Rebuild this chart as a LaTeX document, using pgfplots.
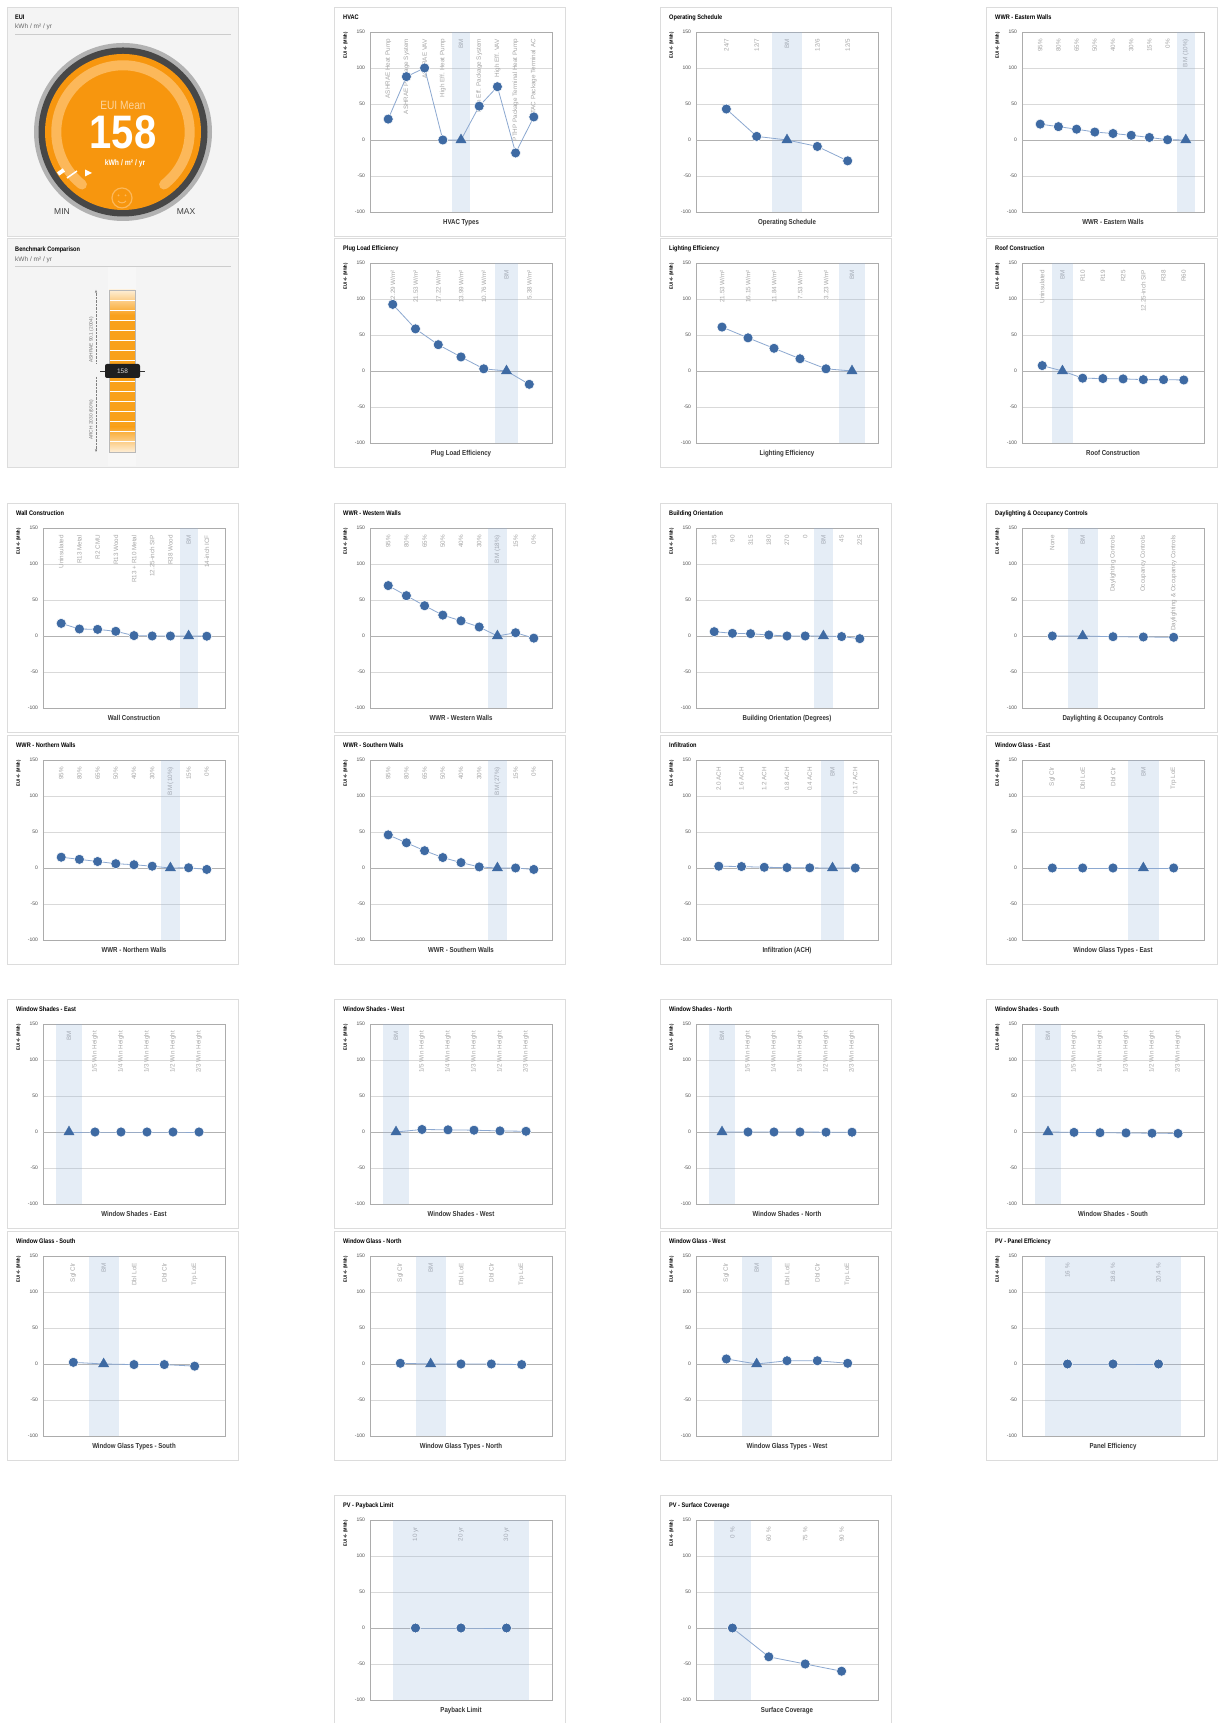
\documentclass[border=0pt]{standalone}
\usepackage{pgfplots}
\pgfplotsset{compat=1.18}
\usepackage{fontspec}
\setmainfont{Liberation Sans}
\newfontfamily\cond[FakeStretch=0.85]{Liberation Sans}
\usetikzlibrary{arrows.meta}

\definecolor{dotblue}{RGB}{62,106,163}
\definecolor{lineblue}{RGB}{140,168,208}
\definecolor{bandblue}{RGB}{150,180,220}
\definecolor{panelgray}{RGB}{220,220,220}
\definecolor{panelfill}{RGB}{244,244,244}
\definecolor{gaugeorange}{RGB}{247,150,14}
\definecolor{lightorange}{RGB}{252,184,90}
\definecolor{barorange}{RGB}{249,161,27}

\newcommand\titlefont{\cond\bfseries\fontsize{6.6}{7}\selectfont}
\newcommand\xlabfont{\cond\bfseries\fontsize{7.2}{8}\selectfont}
\newcommand\catfont{\fontsize{6.3}{7}\selectfont}
\newcommand\tickfont{\fontsize{5}{6}\selectfont}
\newcommand\ylabfont{\cond\bfseries\fontsize{4.8}{5}\selectfont}

\pgfplotsset{
  chart/.style={
    width=182pt, height=180pt, scale only axis, anchor=south west,
    xmin=0, ymin=-100, ymax=150, ytick={-100,-50,0,50,100,150},
    ymajorgrids, grid style={gray!30, line width=0.5pt},
    extra y ticks={0}, extra y tick labels={},
    extra y tick style={grid style={gray!60, line width=0.7pt}},
    major tick length=0pt,
    axis line style={gray!65, line width=0.6pt},
    xticklabel pos=upper,
    xticklabel style={yshift=-7pt, rotate=90, anchor=east, inner sep=0pt, font=\catfont, text=gray!70},
    yticklabel style={font=\tickfont, text=black!70, xshift=-1.5pt},
    /pgf/number format/assume math mode=true,
    ylabel={EUI +/- (MWh)},
    ylabel style={at={(axis description cs:-0.12,1)}, anchor=south east, inner sep=0pt, font=\ylabfont},
    xlabel style={at={(axis description cs:0.5,0)}, anchor=north, yshift=-4pt, font=\xlabfont, text=black!80},
  },
  pts/.style={scatter, scatter src=explicit symbolic, draw=lineblue, line width=0.8pt,
    scatter/classes={
      c={mark=*, mark size=5pt, fill=dotblue, draw=white, line width=0.5pt},
      b={mark=triangle*, mark size=6pt, fill=dotblue, draw=dotblue, line width=0.3pt}}},
}

\newcommand{\panel}[3]{%
  \draw[panelgray, fill=white, line width=0.8pt] (#1,{1723-#2}) rectangle ({#1+231},{1723-#2-229});
  \node[anchor=base west, inner sep=0pt, font=\titlefont] at ({#1+9},{1723-#2-12.5}) {#3};
}

% left, top, title, xlabel, n, labels, band from, band to, data
\newcommand{\chart}[9]{%
  \panel{#1}{#2}{#3}
  \pgfmathtruncatemacro\xmx{#5+1}
  \begin{axis}[chart, at={({(#1+36)*1pt},{(1723-#2-205)*1pt})}, xmax=\xmx, xtick={1,...,#5},
      xticklabels={#6}, xlabel={#4}]
    \addplot[fill=bandblue, fill opacity=0.24, draw=none]
      coordinates {(#7,-100) (#8,-100) (#8,150) (#7,150)};
    \addplot[pts] table[meta=c, row sep=\\] {#9};
  \end{axis}}

\begin{document}
\begin{tikzpicture}[x=1pt,y=1pt]
\fill[white] (0,0) rectangle (1218,1723);

% ---------- EUI gauge panel
\draw[panelgray, fill=panelfill, line width=0.8pt] (7,{1723-7}) rectangle (238,{1723-236});
\node[anchor=base west, inner sep=0pt, font=\titlefont] at (15,{1723-19.5}) {EUI};
\node[anchor=base west, inner sep=0pt, font=\fontsize{6.5}{7}\selectfont, text=black!60] at (15,{1723-29}) {kWh / m² / yr};
\draw[gray!40] (15,{1723-34}) -- (231,{1723-34});
\fill[gray!60] (123,{1723-132}) circle (89pt);
\fill[black!72] (123,{1723-132}) circle (84.5pt);
\fill[gaugeorange] (123,{1723-132}) circle (78pt);
\draw[lightorange, line width=10pt, line cap=round]
  ({123+66.7*cos(232)},{1723-132+66.7*sin(232)}) arc[start angle=232, end angle=-52, radius=66.7pt];
\node[text=lightorange!60!white, font=\cond\fontsize{12}{12}\selectfont] at (123,{1723-105}) {EUI Mean};
\node[text=white, font=\cond\bfseries\fontsize{47}{47}\selectfont, inner sep=0pt] at (123,{1723-132}) {158};
\node[text=white, font=\cond\bfseries\fontsize{8}{8}\selectfont] at (125,{1723-163}) {kWh / m² / yr};
\draw[lightorange, line width=1.2pt] (122,{1723-198}) circle (10pt);
\fill[lightorange] (118.5,{1723-195.5}) circle (1pt) (125.5,{1723-195.5}) circle (1pt);
\draw[lightorange, line width=1pt] (118,{1723-201}) .. controls (120,{1723-203.5}) and (124,{1723-203.5}) .. (126,{1723-201});
\fill[white, rotate around={35:(61,{1723-172})}] (57.5,{1723-174}) rectangle (64.5,{1723-170});
\draw[white, line width=1.5pt] (67,{1723-178}) -- (77,{1723-171});
\fill[white] (85,{1723-169.5}) -- (92,{1723-173}) -- (85,{1723-176.5}) -- cycle;
\node[text=black!75, font=\fontsize{8.5}{9}\selectfont] at (62,{1723-212}) {MIN};
\node[text=black!75, font=\fontsize{8.5}{9}\selectfont] at (186,{1723-212}) {MAX};

% ---------- Benchmark panel
\draw[panelgray, fill=panelfill, line width=0.8pt] (7,{1723-238}) rectangle (238,{1723-467});
\node[anchor=base west, inner sep=0pt, font=\titlefont] at (15,{1723-251.5}) {Benchmark Comparison};
\node[anchor=base west, inner sep=0pt, font=\fontsize{6.5}{7}\selectfont, text=black!60] at (15,{1723-261.5}) {kWh / m² / yr};
\draw[gray!40] (15,{1723-266}) -- (231,{1723-266});
\fill[white!97!black] (108,{1723-267}) rectangle (136,{1723-466});
\shade[top color=barorange!18!white, bottom color=barorange] (109,{1723-290}) rectangle (135,{1723-315});
\fill[barorange] (109,{1723-315}) rectangle (135,{1723-427});
\shade[top color=barorange, bottom color=barorange!18!white] (109,{1723-427}) rectangle (135,{1723-452});
\foreach \k in {1,...,15} \draw[white, line width=0.8pt] (109,{1723-290-\k*10.125}) -- (135,{1723-290-\k*10.125});
\draw[gray!55, line width=0.6pt] (109,{1723-290}) rectangle (135,{1723-452});
\draw[black!80, line width=0.8pt] (100,{1723-371}) -- (145,{1723-371});
\fill[black!88, rounded corners=2pt] (105,{1723-364}) rectangle (140,{1723-378});
\node[text=white!85!black, font=\fontsize{6.5}{7}\selectfont] at (122.5,{1723-371}) {158};
\draw[gray, densely dotted, -{Stealth[length=3pt]}] (96,{1723-363}) -- (96,{1723-290});
\draw[gray, densely dotted, -{Stealth[length=3pt]}] (96,{1723-377}) -- (96,{1723-452});
\node[rotate=90, text=black!55, font=\fontsize{4.8}{5}\selectfont] at (91.5,{1723-340}) {ASHRAE 90.1 (2004)};
\node[rotate=90, text=black!55, font=\fontsize{4.8}{5}\selectfont] at (91.5,{1723-420}) {ARCH 2030 (60\%)};

% ---------- row 1
\chart{334}{7}{HVAC}{HVAC Types}{9}{ASHRAE Heat Pump,ASHRAE Package System,ASHRAE VAV,High Eff. Heat Pump,BM,High Eff. Package System,High Eff. VAV,PTHP Package Terminal Heat Pump,PTAC Package Terminal AC}{4.5}{5.5}
{x y c\\ 1 29 c\\ 2 88 c\\ 3 100 c\\ 4 0 c\\ 5 0 b\\ 6 47 c\\ 7 74 c\\ 8 -18 c\\ 9 32 c\\}
\chart{660}{7}{Operating Schedule}{Operating Schedule}{5}{24/7,12/7,BM,12/6,12/5}{2.5}{3.5}
{x y c\\ 1 43 c\\ 2 5 c\\ 3 0 b\\ 4 -9 c\\ 5 -29 c\\}
\chart{986}{7}{WWR - Eastern Walls}{WWR - Eastern Walls}{9}{95\%,80\%,65\%,50\%,40\%,30\%,15\%,0\%,BM (10\%)}{8.5}{9.5}
{x y c\\ 1 22 c\\ 2 18.5 c\\ 3 15 c\\ 4 11 c\\ 5 9 c\\ 6 6.5 c\\ 7 3.5 c\\ 8 0.3 c\\ 9 0 b\\}

% ---------- row 2
\chart{334}{238}{Plug Load Efficiency}{Plug Load Efficiency}{7}{32.29 W/m²,21.53 W/m²,17.22 W/m²,13.99 W/m²,10.76 W/m²,BM,5.38 W/m²}{5.5}{6.5}
{x y c\\ 1 92.5 c\\ 2 58.5 c\\ 3 36.5 c\\ 4 19.5 c\\ 5 3 c\\ 6 0 b\\ 7 -18.5 c\\}
\chart{660}{238}{Lighting Efficiency}{Lighting Efficiency}{6}{21.53 W/m²,16.15 W/m²,11.84 W/m²,7.53 W/m²,3.23 W/m²,BM}{5.5}{6.5}
{x y c\\ 1 61 c\\ 2 46 c\\ 3 31.5 c\\ 4 17 c\\ 5 3 c\\ 6 0 b\\}
\chart{986}{238}{Roof Construction}{Roof Construction}{8}{Uninsulated,BM,R10,R19,R25,12.25-inch SIP,R38,R60}{1.5}{2.5}
{x y c\\ 1 7.5 c\\ 2 0 b\\ 3 -10 c\\ 4 -10.5 c\\ 5 -11 c\\ 6 -12 c\\ 7 -12 c\\ 8 -12.5 c\\}

% ---------- row 3
\chart{7}{503}{Wall Construction}{Wall Construction}{9}{Uninsulated,R13 Metal,R2 CMU,R13 Wood,R13 + R10 Metal,12.25-inch SIP,R38 Wood,BM,14-inch ICF}{7.5}{8.5}
{x y c\\ 1 17.5 c\\ 2 9.7 c\\ 3 9.2 c\\ 4 6.5 c\\ 5 0.5 c\\ 6 0 c\\ 7 0 c\\ 8 0 b\\ 9 -0.3 c\\}
\chart{334}{503}{WWR - Western Walls}{WWR - Western Walls}{9}{95\%,80\%,65\%,50\%,40\%,30\%,BM (18\%),15\%,0\%}{6.5}{7.5}
{x y c\\ 1 70 c\\ 2 56 c\\ 3 42 c\\ 4 29 c\\ 5 21 c\\ 6 12.5 c\\ 7 0 b\\ 8 4.5 c\\ 9 -3 c\\}
\chart{660}{503}{Building Orientation}{Building Orientation (Degrees)}{9}{135,90,315,180,270,0,BM,45,225}{6.5}{7.5}
{x y c\\ 1 6 c\\ 2 3.7 c\\ 3 3.2 c\\ 4 1.4 c\\ 5 0 c\\ 6 0 c\\ 7 0 b\\ 8 -0.8 c\\ 9 -3.7 c\\}
\chart{986}{503}{Daylighting \& Occupancy Controls}{Daylighting \& Occupancy Controls}{5}{None,BM,Daylighting Controls,Occupancy Controls,Daylighting \& Occupancy Controls}{1.5}{2.5}
{x y c\\ 1 0 c\\ 2 0 b\\ 3 -1 c\\ 4 -1.4 c\\ 5 -1.8 c\\}

% ---------- row 4
\chart{7}{735}{WWR - Northern Walls}{WWR - Northern Walls}{9}{95\%,80\%,65\%,50\%,40\%,30\%,BM (10\%),15\%,0\%}{6.5}{7.5}
{x y c\\ 1 15 c\\ 2 12 c\\ 3 9 c\\ 4 6 c\\ 5 4.5 c\\ 6 2.5 c\\ 7 0 b\\ 8 0.3 c\\ 9 -2 c\\}
\chart{334}{735}{WWR - Southern Walls}{WWR - Southern Walls}{9}{95\%,80\%,65\%,50\%,40\%,30\%,BM (27\%),15\%,0\%}{6.5}{7.5}
{x y c\\ 1 46 c\\ 2 35 c\\ 3 24 c\\ 4 14.5 c\\ 5 7.5 c\\ 6 1.5 c\\ 7 0 b\\ 8 0 c\\ 9 -2 c\\}
\chart{660}{735}{Infiltration}{Infiltration (ACH)}{7}{2.0 ACH,1.6 ACH,1.2 ACH,0.8 ACH,0.4 ACH,BM,0.17 ACH}{5.5}{6.5}
{x y c\\ 1 2.5 c\\ 2 2 c\\ 3 1 c\\ 4 0.5 c\\ 5 0.2 c\\ 6 0 b\\ 7 0 c\\}
\chart{986}{735}{Window Glass - East}{Window Glass Types - East}{5}{Sgl Clr,Dbl LoE,Dbl Clr,BM,Trp LoE}{3.5}{4.5}
{x y c\\ 1 0 c\\ 2 0 c\\ 3 0 c\\ 4 0 b\\ 5 0 c\\}

% ---------- row 5
\chart{7}{999}{Window Shades - East}{Window Shades - East}{6}{BM,1/5 Win Height,1/4 Win Height,1/3 Win Height,1/2 Win Height,2/3 Win Height}{0.5}{1.5}
{x y c\\ 1 0 b\\ 2 0 c\\ 3 0 c\\ 4 0 c\\ 5 0 c\\ 6 0 c\\}
\chart{334}{999}{Window Shades - West}{Window Shades - West}{6}{BM,1/5 Win Height,1/4 Win Height,1/3 Win Height,1/2 Win Height,2/3 Win Height}{0.5}{1.5}
{x y c\\ 1 0 b\\ 2 3.5 c\\ 3 3 c\\ 4 2.5 c\\ 5 1.5 c\\ 6 1 c\\}
\chart{660}{999}{Window Shades - North}{Window Shades - North}{6}{BM,1/5 Win Height,1/4 Win Height,1/3 Win Height,1/2 Win Height,2/3 Win Height}{0.5}{1.5}
{x y c\\ 1 0 b\\ 2 0 c\\ 3 0 c\\ 4 0 c\\ 5 -0.3 c\\ 6 -0.3 c\\}
\chart{986}{999}{Window Shades - South}{Window Shades - South}{6}{BM,1/5 Win Height,1/4 Win Height,1/3 Win Height,1/2 Win Height,2/3 Win Height}{0.5}{1.5}
{x y c\\ 1 0 b\\ 2 -0.5 c\\ 3 -1 c\\ 4 -1.3 c\\ 5 -1.7 c\\ 6 -2 c\\}

% ---------- row 6
\chart{7}{1231}{Window Glass - South}{Window Glass Types - South}{5}{Sgl Clr,BM,Dbl LoE,Dbl Clr,Trp LoE}{1.5}{2.5}
{x y c\\ 1 2.3 c\\ 2 0 b\\ 3 -0.8 c\\ 4 -0.8 c\\ 5 -3 c\\}
\chart{334}{1231}{Window Glass - North}{Window Glass Types - North}{5}{Sgl Clr,BM,Dbl LoE,Dbl Clr,Trp LoE}{1.5}{2.5}
{x y c\\ 1 1 c\\ 2 0 b\\ 3 0 c\\ 4 0 c\\ 5 -0.8 c\\}
\chart{660}{1231}{Window Glass - West}{Window Glass Types - West}{5}{Sgl Clr,BM,Dbl LoE,Dbl Clr,Trp LoE}{1.5}{2.5}
{x y c\\ 1 7 c\\ 2 0 b\\ 3 4.5 c\\ 4 4.5 c\\ 5 1 c\\}
\chart{986}{1231}{PV - Panel Efficiency}{Panel Efficiency}{3}{16 \%,18.6 \%,20.4 \%}{0.5}{3.5}
{x y c\\ 1 0 c\\ 2 0 c\\ 3 0 c\\}

% ---------- row 7
\chart{334}{1495}{PV - Payback Limit}{Payback Limit}{3}{10 yr,20 yr,30 yr}{0.5}{3.5}
{x y c\\ 1 0 c\\ 2 0 c\\ 3 0 c\\}
\chart{660}{1495}{PV - Surface Coverage}{Surface Coverage}{4}{0 \%,60 \%,75 \%,90 \%}{0.5}{1.5}
{x y c\\ 1 0 c\\ 2 -40 c\\ 3 -50 c\\ 4 -60 c\\}

\pgfresetboundingbox
\path[use as bounding box] (0,0) rectangle (1218,1723);
\end{tikzpicture}
\end{document}
